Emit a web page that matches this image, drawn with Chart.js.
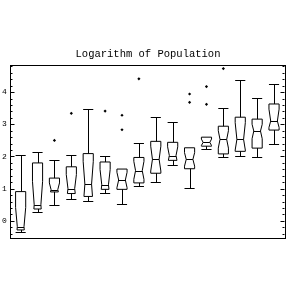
<!DOCTYPE html>
<html>
<head>
<meta charset="utf-8">
<script src="https://cdn.jsdelivr.net/npm/chart.js@4/dist/chart.umd.min.js"></script>
<style>
  html, body { margin: 0; padding: 0; background: #fff; }
  canvas { display: block; }
</style>
</head>
<body>
<canvas id="chart" width="288" height="288" style="width:288px;height:288px"></canvas>
<script>
// one notched box per group (log10 scale)
const groups        = [1, 2, 3, 4, 5, 6, 7, 8, 9, 10, 11, 12, 13, 14, 15, 16];
const whiskerHigh   = [2.04, 2.15, 1.89, 2.05, 3.46, 2.01, 1.61, 2.41, 3.24, 3.08, 2.27, 2.60, 3.49, 4.38, 3.83, 4.25];
const upperQuartile = [0.91, 1.80, 1.33, 1.68, 2.09, 1.83, 1.61, 1.97, 2.47, 2.44, 2.27, 2.60, 2.94, 3.22, 3.16, 3.63];
const notchHigh     = [0.42, 1.23, 1.18, 1.44, 1.85, 1.60, 1.51, 1.85, 2.32, 2.30, 2.12, 2.54, 2.80, 3.05, 3.00, 3.47];
const medians       = [-0.18, 0.50, 0.97, 1.00, 1.14, 1.12, 1.27, 1.56, 1.91, 2.03, 1.91, 2.44, 2.53, 2.53, 2.79, 3.10];
const notchLow      = [-0.78, -0.23, 0.76, 0.56, 0.43, 0.64, 1.03, 1.29, 1.55, 1.76, 1.70, 2.34, 2.26, 2.20, 2.55, 2.90];
const lowerQuartile = [-0.28, 0.37, 0.90, 0.85, 0.76, 0.98, 0.98, 1.18, 1.48, 1.88, 1.62, 2.32, 2.08, 2.16, 2.26, 2.82];
const whiskerLow    = [-0.35, 0.27, 0.50, 0.68, 0.61, 0.87, 0.51, 1.09, 1.21, 1.74, 1.03, 2.23, 1.97, 2.02, 1.97, 2.40];
const outliers      = [[], [], [2.50], [3.34], [], [3.41], [3.28, 2.83], [4.41], [], [], [3.94, 3.68], [4.17, 3.62], [4.73], [], [], []];
const yTickLabels   = [0, 1, 2, 3, 4];

const outlierPoints = [];
groups.forEach((g, i) => outliers[i].forEach(v => outlierPoints.push({x: g, y: v})));

const boxHalf = 0.3;     // box half width in group units
const notchDepth = 0.34; // share of half width pulled in at the median

const crisp = v => Math.round(v) + 0.5;

const notchedBoxes = {
    id: 'notchedBoxes',
    beforeDatasetsDraw(chart) {
        const {ctx, scales: {x, y}} = chart;
        ctx.save();
        ctx.strokeStyle = '#000';
        ctx.lineWidth = 1;
        groups.forEach((g, i) => {
            const cx = x.getPixelForValue(g);
            const hw = x.getPixelForValue(g + boxHalf) - cx;
            const q1 = lowerQuartile[i], q3 = upperQuartile[i], med = medians[i];
            const nHi = notchHigh[i], nLo = notchLow[i];
            const indent = v => {
                let t = 0;
                if (v >= med && v < nHi) t = 1 - (v - med) / (nHi - med);
                if (v < med && v > nLo) t = 1 - (med - v) / (med - nLo);
                return hw * notchDepth * t;
            };
            let levels = [q3, nHi, med, nLo, q1].filter(v => v <= q3 && v >= q1);
            levels = [...new Set(levels)].sort((a, b) => b - a);

            // box outline with notch
            ctx.beginPath();
            levels.forEach((v, k) => {
                const px = cx + hw - indent(v), py = y.getPixelForValue(v);
                if (k === 0) ctx.moveTo(px, py); else ctx.lineTo(px, py);
            });
            levels.slice().reverse().forEach(v => {
                ctx.lineTo(cx - hw + indent(v), y.getPixelForValue(v));
            });
            ctx.closePath();
            ctx.stroke();

            // median
            const my = crisp(y.getPixelForValue(med));
            ctx.beginPath();
            ctx.moveTo(cx - hw + indent(med), my);
            ctx.lineTo(cx + hw - indent(med), my);
            ctx.stroke();

            // whiskers and caps
            const wx = crisp(cx);
            [[q3, whiskerHigh[i]], [q1, whiskerLow[i]]].forEach(([from, to]) => {
                if (Math.abs(to - from) < 0.01) return;
                const ty = crisp(y.getPixelForValue(to));
                ctx.beginPath();
                ctx.moveTo(wx, y.getPixelForValue(from));
                ctx.lineTo(wx, ty);
                ctx.moveTo(cx - hw, ty);
                ctx.lineTo(cx + hw, ty);
                ctx.stroke();
            });
        });
        ctx.restore();
    }
};

const frameAndTicks = {
    id: 'frameAndTicks',
    afterDraw(chart) {
        const {ctx, chartArea: a, scales: {y}} = chart;
        ctx.save();
        ctx.strokeStyle = '#000';
        ctx.lineWidth = 1;
        ctx.strokeRect(crisp(a.left), crisp(a.top), Math.round(a.right - a.left), Math.round(a.bottom - a.top));
        // inward ticks on left and right, minor every 0.2
        ctx.beginPath();
        for (let k = -2; k <= 24; k++) {
            const v = k / 5;
            const py = crisp(y.getPixelForValue(v));
            if (py < a.top || py > a.bottom) continue;
            const len = k % 5 === 0 ? 4 : 2;
            ctx.moveTo(crisp(a.left), py);
            ctx.lineTo(crisp(a.left) + len, py);
            ctx.moveTo(crisp(a.right), py);
            ctx.lineTo(crisp(a.right) - len, py);
        }
        ctx.stroke();
        ctx.fillStyle = '#000';
        ctx.font = '8px "Liberation Mono"';
        ctx.textAlign = 'center';
        ctx.textBaseline = 'middle';
        yTickLabels.forEach(v => ctx.fillText(String(v), 4.5, y.getPixelForValue(v)));
        ctx.restore();
    }
};

new Chart(document.getElementById('chart').getContext('2d'), {
    type: 'scatter',
    data: {
        datasets: [{
            label: 'outliers',
            data: outlierPoints,
            pointStyle: 'rectRot',
            pointRadius: 1.6,
            backgroundColor: '#000',
            borderColor: '#000',
            borderWidth: 0
        }]
    },
    options: {
        responsive: false,
        animation: false,
        layout: {padding: {left: 9.5, right: 1.5, top: 0, bottom: 50}},
        plugins: {
            legend: {display: false},
            tooltip: {enabled: false},
            title: {
                display: true,
                text: 'Logarithm of Population',
                color: '#000',
                font: {family: '"Liberation Mono"', size: 10.5, weight: 'normal'},
                padding: {top: 48, bottom: 4.4}
            }
        },
        scales: {
            x: {type: 'linear', min: 0.34, max: 16.59, display: false},
            y: {type: 'linear', min: -0.53, max: 4.84, display: false}
        }
    },
    plugins: [notchedBoxes, frameAndTicks]
});
</script>
</body>
</html>
